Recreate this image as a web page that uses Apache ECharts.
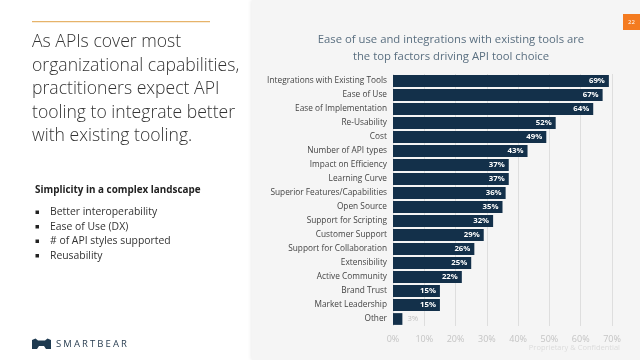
<!DOCTYPE html>
<html>
<head>
<meta charset="utf-8">
<script src="https://cdn.jsdelivr.net/npm/echarts@6/dist/echarts.min.js"></script>
<style>
html,body{margin:0;padding:0;background:#fff;}
#c{width:640px;height:360px;}
</style>
</head>
<body>
<div id="c"></div>
<script>
var categories = ["Integrations with Existing Tools","Ease of Use","Ease of Implementation","Re-Usability","Cost","Number of API types","Impact on Efficiency","Learning Curve","Superior Features/Capabilities","Open Source","Support for Scripting","Customer Support","Support for Collaboration","Extensibility","Active Community","Brand Trust","Market Leadership","Other"];
var values = [69,67,64,52,49,43,37,37,36,35,32,29,26,25,22,15,15,3];
var xTicks = [0,10,20,30,40,50,60,70];
var titleLines = ["Ease of use and integrations with existing tools are","the top factors driving API tool choice"];
var headlineLines = ["As APIs cover most","organizational capabilities,","practitioners expect API","tooling to integrate better","with existing tooling."];
var subHeading = "Simplicity in a complex landscape";
var bullets = ["Better interoperability","Ease of Use (DX)","# of API styles supported","Reusability"];
var brand = "SMARTBEAR";

var chart = echarts.init(document.getElementById('c'), null, {renderer:'canvas'});

var F = '"Open Sans", sans-serif';
var graphics = [];
graphics.push({type:'rect', z:-10, shape:{x:252,y:0,width:388,height:360}, style:{fill:'#f5f5f5', shadowBlur:4, shadowColor:'rgba(0,0,0,0.08)', shadowOffsetX:-1}});
graphics.push({type:'rect', shape:{x:32,y:21,width:178,height:1.2}, style:{fill:'#e6b36a'}});
headlineLines.forEach(function(t,i){
  graphics.push({type:'text', x:32, y:42+i*23.5, style:{text:t, font:'300 17.6px "Open Sans", sans-serif', fill:'#333', textVerticalAlign:'middle'}});
});
graphics.push({type:'text', x:35, y:190, style:{text:subHeading, font:'bold 9.9px "Open Sans", sans-serif', fill:'#222', textVerticalAlign:'middle'}});
bullets.forEach(function(t,i){
  var y = 212.5+i*14.5;
  graphics.push({type:'rect', shape:{x:35.5,y:y-2,width:3.5,height:3.5}, style:{fill:'#222'}});
  graphics.push({type:'text', x:50, y:y, style:{text:t, font:'10.4px "Open Sans", sans-serif', fill:'#333', textVerticalAlign:'middle'}});
});
graphics.push({type:'polygon', shape:{points:[[32,340],[35.5,338.5],[38,340.5],[45,340.5],[47.5,338.5],[51,340],[51,349],[46,349],[44,346],[39,346],[37,349],[32,349]]}, style:{fill:'#1e3a50'}});
// brand wordmark with letter spacing
(function(){
  var cv = document.createElement('canvas').getContext('2d');
  var bf = '500 9.5px "Open Sans", sans-serif';
  cv.font = bf;
  var x = 56;
  for (var k=0;k<brand.length;k++){
    graphics.push({type:'text', x:x, y:344, style:{text:brand[k], font:bf, fill:'#2a3f52', textVerticalAlign:'middle'}});
    x += cv.measureText(brand[k]).width + 2.1;
  }
})();
graphics.push({type:'rect', shape:{x:623,y:14,width:17,height:16}, style:{fill:'#f47b20'}});
graphics.push({type:'text', x:631.5, y:22, style:{text:'22', font:'6px "Open Sans", sans-serif', fill:'#fff', textAlign:'center', textVerticalAlign:'middle'}});
graphics.push({type:'text', x:620, y:348, style:{text:'Proprietary & Confidential', font:'7.5px "Open Sans", sans-serif', fill:'#dcdcdc', textAlign:'right', textVerticalAlign:'middle'}});
titleLines.forEach(function(t,i){
  graphics.push({type:'text', x:451, y:40+i*16.5, style:{text:t, font:'11.3px "Open Sans", sans-serif', fill:'#5a6f80', textAlign:'center', textVerticalAlign:'middle'}});
});

var data = values.map(function(v,i){
  var d = {value:v};
  if (v < 8) {
    d.label = {position:'right', color:'#c0c0c0', fontWeight:'normal', distance:5};
  }
  return d;
});

chart.setOption({
  animation:false,
  grid:{left:393, right:28, top:74, height:252, containLabel:false},
  xAxis:{type:'value', min:0, max:70, interval:10,
    axisLabel:{formatter:function(v){return v+'%';}, color:'#c4c4c4', fontSize:9, fontFamily:F, margin:9},
    axisLine:{show:false}, axisTick:{show:false},
    splitLine:{show:true, lineStyle:{color:'#dedede', width:1}}},
  yAxis:{type:'category', data:categories, inverse:true,
    axisLabel:{color:'#444', fontSize:8.3, fontFamily:F, margin:6},
    axisLine:{show:false}, axisTick:{show:false}},
  series:[{type:'bar', data:data, barWidth:'84%', itemStyle:{color:'#13304a'},
    label:{show:true, position:'insideRight', formatter:'{c}%', color:'#fff', fontSize:7.8, fontWeight:'bold', fontFamily:F, distance:4}}],
  graphic:graphics
});
</script>
</body>
</html>
